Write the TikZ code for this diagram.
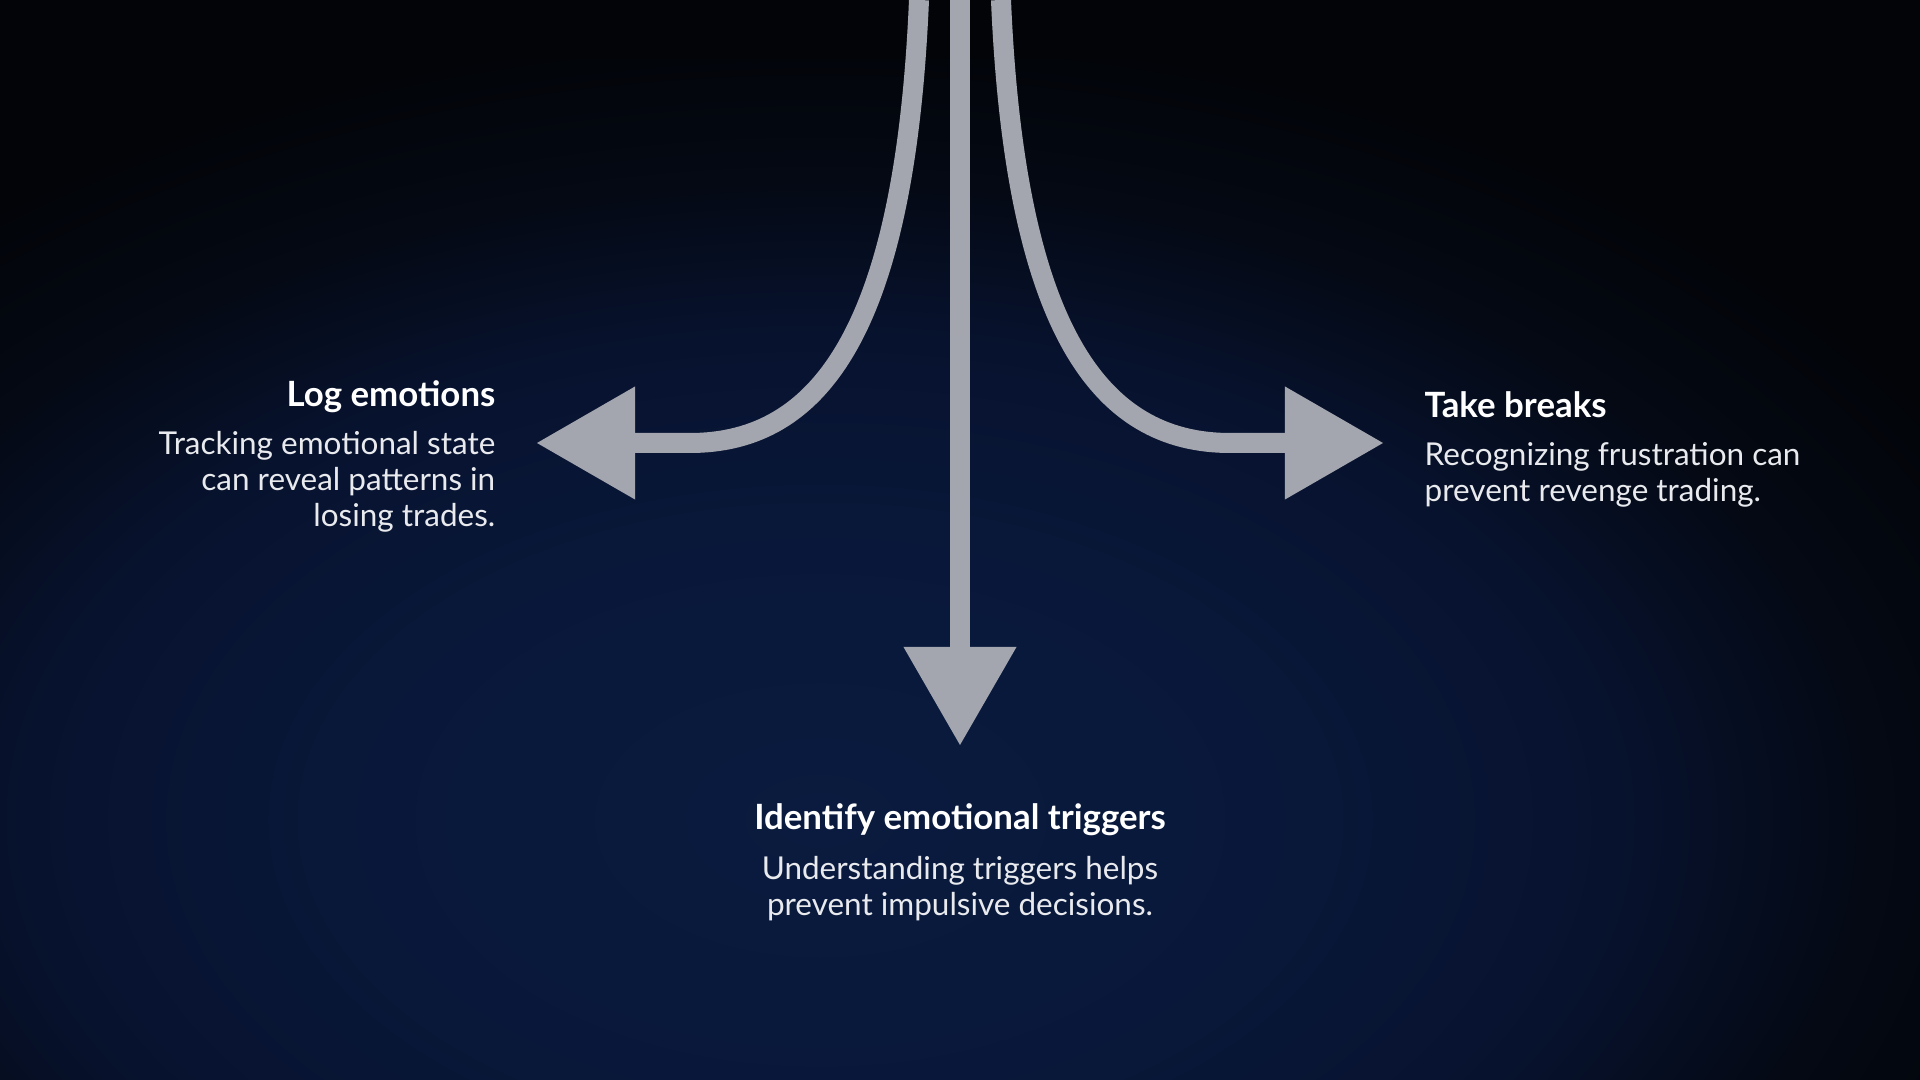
\documentclass[tikz,border=0pt]{standalone}
\usepackage{fontspec}
\setmainfont{Lato}
\usetikzlibrary{arrows.meta}
\usetikzlibrary{positioning}
\tikzset{>=latex}
\definecolor{bgcore}{HTML}{0A1B3F}
\definecolor{bgnavy}{HTML}{09183A}
\definecolor{bgmid}{HTML}{07122E}
\definecolor{bgdark}{HTML}{040914}
\definecolor{bgtop}{HTML}{020408}
\definecolor{arrowgray}{RGB}{163,166,174}
\definecolor{bodygray}{RGB}{232,234,238}
\pgfdeclareradialshading{bgglow}{\pgfpoint{0bp}{0bp}}{color(0bp)=(bgcore); color(9bp)=(bgnavy); color(16bp)=(bgmid); color(21bp)=(bgdark); color(26bp)=(bgtop); color(50bp)=(bgtop)}

\begin{document}
\begin{tikzpicture}[x=0.01cm,y=-0.01cm,
  flow/.style={draw=arrowgray,line width=0.2cm,-{Triangle[length=0.98cm,width=1.13cm,line width=0pt]}},
  head/.style={text=white,inner sep=0pt,font=\fontsize{9.9}{11.5}\selectfont\bfseries},
  body/.style={text=bodygray,inner sep=0pt,font=\fontsize{8.95}{10.2}\selectfont}]

\useasboundingbox (0,0) rectangle (1920,1080);
\begin{scope}
  \clip (0,0) rectangle (1920,1080);
  \fill [bgtop] (0,0) rectangle (1920,1080);
  \shade [shading=bgglow] (-430,60) rectangle (2070,1580);
\end{scope}

\coordinate (srcL) at (919,0);
\coordinate (srcM) at (960,0);
\coordinate (srcR) at (1001,0);
\coordinate (bendL) at (690,443);
\coordinate (bendR) at (1230,443);
\coordinate (tipL) at (537,443);
\coordinate (tipR) at (1383,443);
\coordinate (tipM) at (960,745);

\draw [flow] (srcL) .. controls (905,330) and (820,443) .. (bendL) -- (tipL);
\draw [flow] (srcR) .. controls (1015,330) and (1100,443) .. (bendR) -- (tipR);
\draw [flow] (srcM) -- (tipM);

\node (logHead) [head,anchor=base east] at (496,407) {Log emotions};
\node (logText) [body,align=right,anchor=north east] at ([yshift=-0.24cm]logHead.base east) {Tracking emotional state\\can reveal patterns in\\losing trades.};

\node (breakHead) [head,anchor=base west] at (1424,418) {Take breaks};
\node (breakText) [body,align=left,anchor=north west] at ([yshift=-0.24cm]breakHead.base west) {Recognizing frustration can\\prevent revenge trading.};

\node (trigHead) [head,anchor=base] at (960,830) {Identify emotional triggers};
\node (trigText) [body,align=center,anchor=north] at ([yshift=-0.26cm]trigHead.base) {Understanding triggers helps\\prevent impulsive decisions.};

\end{tikzpicture}
\end{document}
